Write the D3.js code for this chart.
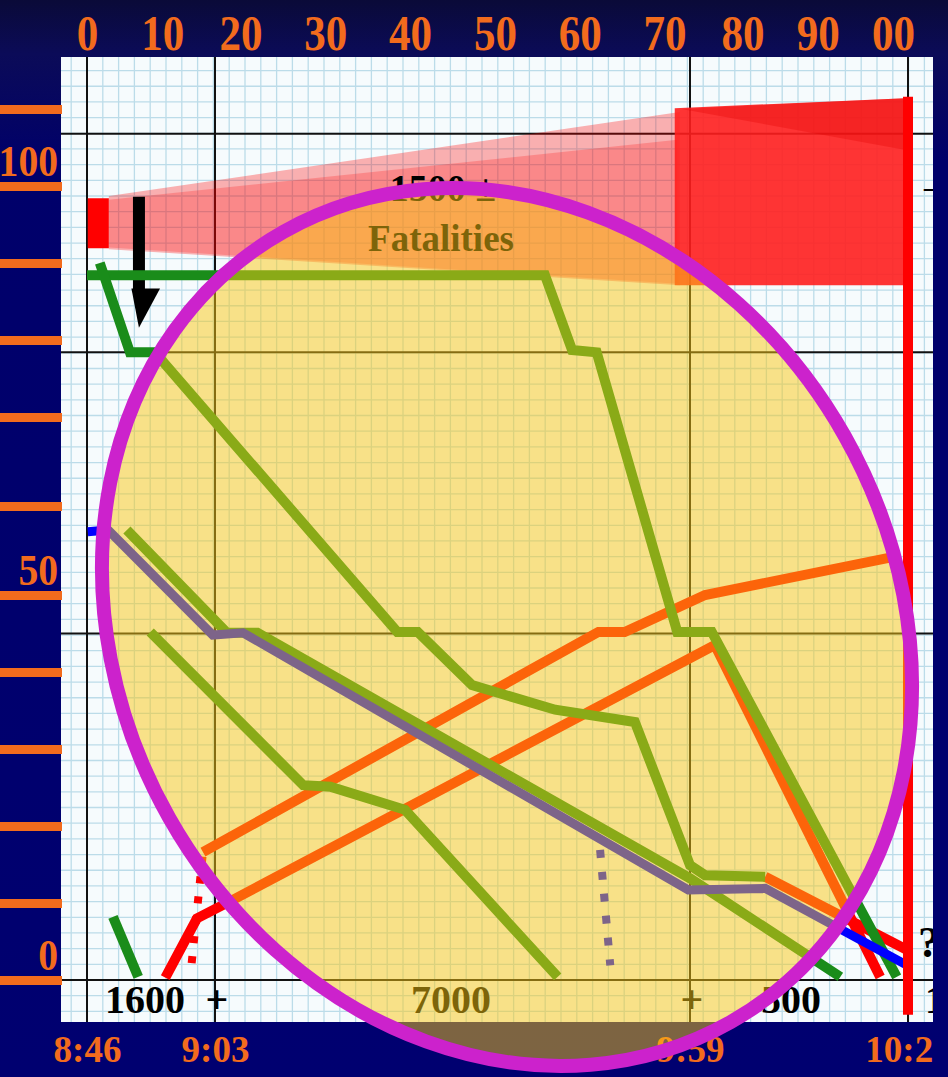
<!DOCTYPE html>
<html><head><meta charset="utf-8">
<script src="https://cdn.jsdelivr.net/npm/d3@7"></script>
<style>html,body{margin:0;padding:0;background:#00006c;} svg{display:block}</style>
</head><body>
<svg id="chart" width="948" height="1077"></svg>
<script>
// ---------------- data ----------------
const topTicks = [0,10,20,30,40,50,60,70,80,90,100];
const topTickLabels = ["0","10","20","30","40","50","60","70","80","90","00"];
const eventTimes = [0,17,73,102];            // minutes after 8:46
const eventLabels = ["8:46","9:03","9:59","10:28"];
const leftTicks = [0,10,20,30,40,50,60,70,80,90,100,110];
const leftLabelValues = [0,50,100];
const gridMajorValues = [0,45,78.4,106.8];

// green series [minute, value]
const greenA = [[0,88.4],[55.9,88.4],[59.1,78.7],[62,78.4],[71.5,45.2],[75.9,45.2],[100.5,0.4]];
const greenB = [[1.7,90],[5.7,78.4],[9.0,78.4],[38.5,45.2],[40.9,45.2],[47.3,38.3],[57.1,35.1],[66.5,33.5],[73,14.9],[75,13.6],[83,13.4]];
const greenC = [[5.3,57.3],[18.4,45.1],[22.0,45.1],[73,13.2],[93,0.4]];
const greenD = [[8.4,45.2],[27.4,25.3],[30.6,25.1],[39.4,22.1],[57.4,0.4]];
const greenE = [[3.45,8.2],[6.8,0.4]];
// red series
const redA = [[10.4,0.3],[14.6,8.0],[19.1,10.4],[76.3,43.5],[98.3,0.4]];
const redB = [[15.4,16.6],[62.2,45.2],[65.3,45.2],[75,50],[99.6,54.2]];
const redC = [[83,13.4],[101.9,3.9]];
const redDotted = [[13.9,2.2],[15.4,16.6]];
const redBar = [[102,111.6],[102,-4.5]];
// blue series
const blueA = [[0.1,57.1],[2.8,57.3],[16.7,44.8],[20.3,45.1],[72.8,11.7],[83,11.9],[101.9,1.9]];
const blueDotted = [[62.4,16.9],[63.6,1.9]];
// fatalities areas
const fatalStart = [[0.1,98.4],[2.9,98.4],[2.9,91.9],[0.1,91.9]];
const fatalWedgeOuter = [[2.9,98.7],[71.8,109.6],[71.8,87.1],[2.9,91.8]];
const fatalWedgeInner = [[2.9,98.2],[71.5,106],[71.5,87.3],[2.9,92.0]];
const fatalBlock = [[71.2,110.1],[101.6,111.4],[101.6,87.1],[71.2,87.1]];
const fatalBlockTop = [[72,110],[101.5,111.4],[101.5,104.7]];
const arrowShaft = [[6.9,98.6],[6.9,86.5]];
const arrowHead = [[5.9,86.7],[9.7,86.7],[6.9,81.6]];
// counts
const countLabels = ["1600","+","7000","+","500"];

// ---------------- layout ----------------
const W = 948, H = 1077;
const plot = {l:61, t:57, r:933, b:1022};
const x = d3.scaleLinear().domain(eventTimes).range([87,215,690,908]);
const y = d3.scaleLinear().domain([0,50,70,110]).range([980,595,417,109]);
const line = d3.line().x(d => x(d[0])).y(d => y(d[1]));
const poly = pts => line(pts) + "Z";

const svg = d3.select("#chart");
const defs = svg.append("defs");
const bg = defs.append("linearGradient").attr("id","bg").attr("x1",0).attr("y1",0).attr("x2",0).attr("y2",1);
[["0%","#0a0a38"],["5%","#0b0b58"],["15%","#00006a"],["100%","#000070"]].forEach(s =>
  bg.append("stop").attr("offset",s[0]).attr("stop-color",s[1]));
defs.append("clipPath").attr("id","pc").append("rect")
  .attr("x",plot.l).attr("y",plot.t).attr("width",plot.r-plot.l).attr("height",plot.b-plot.t);

svg.append("rect").attr("width",W).attr("height",H).attr("fill","url(#bg)");
svg.append("rect").attr("x",plot.l).attr("y",plot.t).attr("width",plot.r-plot.l)
  .attr("height",plot.b-plot.t).attr("fill","#f6fbfd");

// minor grid
const cellX = 15.8, cellY = 15.68;
const gx = [], gy = [];
for (let v = x(0) - Math.floor((x(0)-plot.l)/cellX)*cellX; v <= plot.r; v += cellX) gx.push(v);
for (let v = y(0) + Math.floor((plot.b-y(0))/cellY)*cellY; v >= plot.t; v -= cellY) gy.push(v);
const grid = svg.append("g").attr("clip-path","url(#pc)");
grid.selectAll(".gx").data(gx).join("line").attr("x1",d=>d).attr("x2",d=>d)
  .attr("y1",plot.t).attr("y2",plot.b).attr("stroke","#bcdce9").attr("stroke-width",1.3);
grid.selectAll(".gy").data(gy).join("line").attr("y1",d=>d).attr("y2",d=>d)
  .attr("x1",plot.l).attr("x2",plot.r).attr("stroke","#bcdce9").attr("stroke-width",1.3);
// major grid
grid.selectAll(".mx").data(eventTimes).join("line").attr("x1",d=>x(d)).attr("x2",d=>x(d))
  .attr("y1",plot.t).attr("y2",plot.b).attr("stroke","#111").attr("stroke-width",2);
grid.selectAll(".my").data(gridMajorValues).join("line").attr("y1",d=>y(d)).attr("y2",d=>y(d))
  .attr("x1",plot.l).attr("x2",plot.r).attr("stroke","#111").attr("stroke-width",2);

const marks = svg.append("g").attr("clip-path","url(#pc)");
// fatalities
marks.append("path").attr("d",poly(fatalWedgeOuter)).attr("fill","#f00").attr("fill-opacity",0.3);
marks.append("path").attr("d",poly(fatalWedgeInner)).attr("fill","#f00").attr("fill-opacity",0.22);
marks.append("path").attr("d",poly(fatalStart)).attr("fill","#f00");
marks.append("path").attr("d",poly(fatalBlock)).attr("fill","#ff1e1e").attr("fill-opacity",0.9);
marks.append("path").attr("d",poly(fatalBlockTop)).attr("fill","#e00000").attr("fill-opacity",0.3);

const serif = "'Liberation Serif','Times New Roman',serif";
marks.append("text").attr("x",443).attr("y",201).attr("text-anchor","middle")
  .attr("font-family",serif).attr("font-weight","bold").attr("font-size",38).attr("fill","#000").text("1500 ±");
marks.append("text").attr("x",441).attr("y",251).attr("text-anchor","middle")
  .attr("font-family",serif).attr("font-weight","bold").attr("font-size",37).attr("fill","#000").text("Fatalities");

// arrow
marks.append("path").attr("d",line(arrowShaft)).attr("stroke","#000").attr("stroke-width",12).attr("fill","none");
marks.append("path").attr("d",poly(arrowHead)).attr("fill","#000");

// lines
const GREEN = "#1a8c1a", RED = "#ff0000", BLUE = "#0000ff";
function drawLine(data, color, w, dash) {
  const p = marks.append("path").attr("d", line(data)).attr("fill","none")
    .attr("stroke", color).attr("stroke-width", w).attr("stroke-linejoin","miter").attr("stroke-miterlimit",3);
  if (dash) p.attr("stroke-dasharray", dash);
  return p;
}
drawLine(redA, RED, 10);
drawLine(redB, RED, 10);
drawLine(redC, RED, 10);
drawLine(redDotted, RED, 8, "7,13");
drawLine(greenA, GREEN, 10);
drawLine(greenB, GREEN, 10);
drawLine(greenC, GREEN, 10);
drawLine(greenD, GREEN, 10);
drawLine(greenE, GREEN, 10);
drawLine(blueA, BLUE, 9);
drawLine(blueDotted, BLUE, 8, "8,14");
drawLine(redBar, RED, 10);

// counts along the bottom
const countX = [145, 217, 451, 692, 791];
marks.selectAll(".cnt").data(countLabels).join("text")
  .attr("x",(d,i)=>countX[i]).attr("y",1013).attr("text-anchor","middle")
  .attr("font-family",serif).attr("font-weight","bold").attr("font-size",40).attr("fill","#000").text(d=>d);
marks.append("text").attr("x",918).attr("y",957).attr("font-family",serif).attr("font-weight","bold")
  .attr("font-size",44).attr("fill","#000").text("?");
marks.append("text").attr("x",925).attr("y",1013).attr("font-family",serif).attr("font-weight","bold")
  .attr("font-size",40).attr("fill","#000").text("1");
marks.append("text").attr("x",924).attr("y",197).attr("font-family",serif).attr("font-weight","bold")
  .attr("font-size",30).attr("fill","#000").text("–");

// axes
const ORANGE = "#f26b1d";
const topAxis = svg.append("g").attr("transform","translate(0,50)")
  .call(d3.axisTop(x).tickValues(topTicks).tickFormat((d,i)=>topTickLabels[i]).tickSize(0).tickPadding(0));
topAxis.select(".domain").remove();
topAxis.selectAll("text").attr("font-family",serif).attr("font-weight","bold").attr("font-size",50)
  .attr("fill",ORANGE).attr("dy",0).attr("y",0)
  .each(function(){ const w=this.getComputedTextLength(); d3.select(this).attr("textLength",w*0.86).attr("lengthAdjust","spacingAndGlyphs"); });

const leftAxis = svg.append("g").attr("transform","translate(62,0)")
  .call(d3.axisLeft(y).tickValues(leftTicks).tickSize(62).tickFormat(""));
leftAxis.select(".domain").remove();
leftAxis.selectAll("line").attr("stroke",ORANGE).attr("stroke-width",9);
svg.selectAll(".ylab").data(leftLabelValues).join("text")
  .attr("x",58).attr("y",d=>y(d)-10).attr("text-anchor","end")
  .attr("font-family",serif).attr("font-weight","bold").attr("font-size",44).attr("fill",ORANGE)
  .text(d=>d)
  .each(function(){ const w=this.getComputedTextLength(); d3.select(this).attr("textLength",w*0.9).attr("lengthAdjust","spacingAndGlyphs"); });

const botAxis = svg.append("g").attr("transform","translate(0,1062)")
  .call(d3.axisBottom(x).tickValues(eventTimes).tickFormat((d,i)=>eventLabels[i]).tickSize(0).tickPadding(0));
botAxis.select(".domain").remove();
botAxis.selectAll("text").attr("font-family",serif).attr("font-weight","bold").attr("font-size",37)
  .attr("fill",ORANGE).attr("dy",0).attr("y",0);

// highlight ellipse overlay
const ell = {cx:507, cy:627, rx:388, ry:454, rot:-29.5};
svg.append("ellipse").attr("cx",ell.cx).attr("cy",ell.cy).attr("rx",ell.rx).attr("ry",ell.ry)
  .attr("transform",`rotate(${ell.rot},${ell.cx},${ell.cy})`)
  .attr("fill","rgb(250,200,20)").attr("fill-opacity",0.5);
svg.append("ellipse").attr("cx",ell.cx).attr("cy",ell.cy).attr("rx",ell.rx).attr("ry",ell.ry)
  .attr("transform",`rotate(${ell.rot},${ell.cx},${ell.cy})`)
  .attr("fill","none").attr("stroke","#cc22cc").attr("stroke-width",14);

// right border strip
svg.append("rect").attr("x",plot.r).attr("y",0).attr("width",W-plot.r).attr("height",H).attr("fill","url(#bg)");
</script>
</body></html>
